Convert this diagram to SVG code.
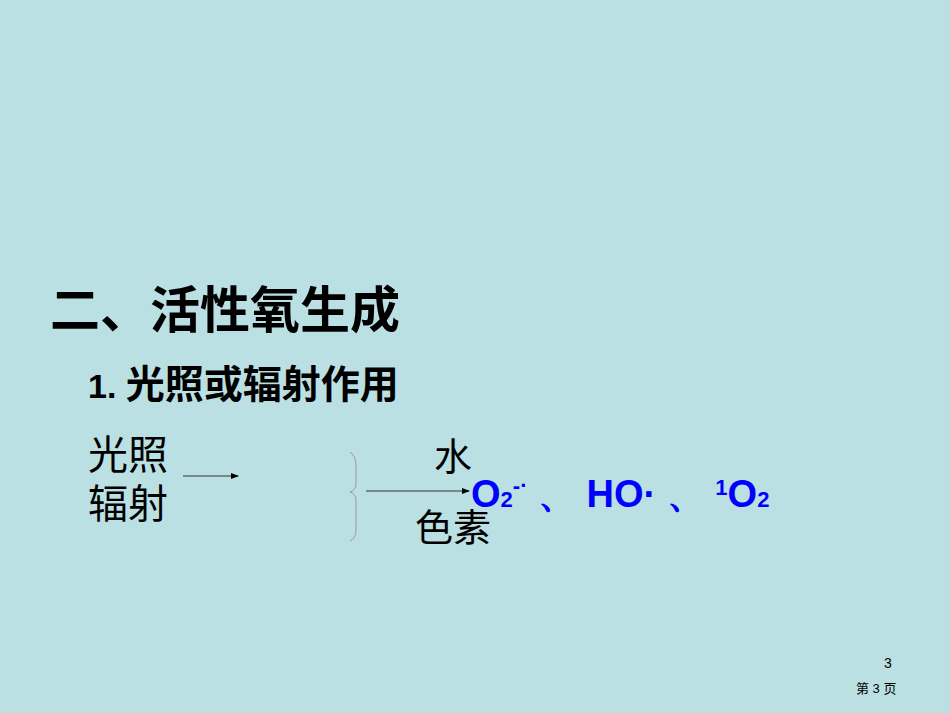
<svg xmlns="http://www.w3.org/2000/svg" width="950" height="713" viewBox="0 0 950 713">
<defs><marker id="ah" markerWidth="8" markerHeight="6" refX="7" refY="3" orient="auto"><path d="M0,0 L8,3 L0,6 z" fill="#000"/></marker></defs>
<style>.c{font-family:"Liberation Sans","Noto Sans CJK SC",sans-serif;fill:#000}.b{font-family:"Liberation Sans",sans-serif;fill:#0000ff;font-weight:bold}</style>
<rect width="950" height="713" fill="#bbe0e3"/>
<g id="title"><text class="c" x="50" y="328" font-size="50" font-weight="bold">二、活性氧生成</text></g>
<g id="sub"><text class="c" x="88" y="398" font-size="34" font-weight="bold">1. <tspan font-size="39">光照或辐射作用</tspan></text></g>
<g id="src"><text class="c" x="88" y="469" font-size="40">光照</text><text class="c" x="88" y="518" font-size="40">辐射</text></g>
<g id="mid"><text class="c" x="434" y="470" font-size="38">水</text><text class="c" x="415" y="541" font-size="38">色素</text></g>
<g id="prod"><text class="b" x="471" y="507" font-size="38">O<tspan font-size="22">2</tspan><tspan font-size="22" dy="-14">-·</tspan><tspan dy="14"> 、 HO· 、 </tspan><tspan font-size="22" dy="-12">1</tspan><tspan dy="12">O</tspan><tspan font-size="22">2</tspan></text></g>
<g id="connectors" fill="none" stroke="#555" stroke-width="1">
<line x1="183" y1="476" x2="238" y2="476" marker-end="url(#ah)" stroke="#333"/>
<path d="M350,452 Q356,456 356,466 L356,484 Q356,490 350,492 Q356,494 356,500 L356,530 Q356,538 350,541" stroke="#999"/>
<line x1="366" y1="491" x2="469" y2="491" marker-end="url(#ah)" stroke="#333"/>
</g>
<g id="footer"><text class="c" x="884" y="668" font-size="14">3</text><text class="c" x="856" y="693" font-size="13">第 3 页</text></g>
</svg>
